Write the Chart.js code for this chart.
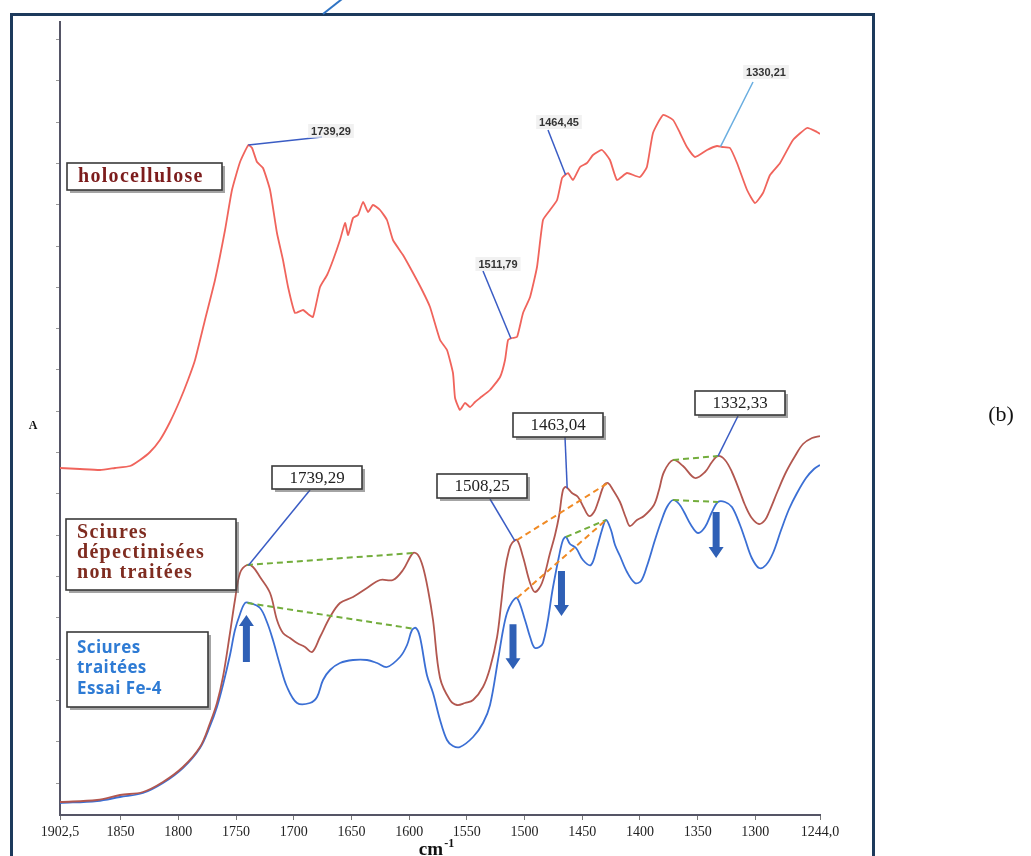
<!DOCTYPE html>
<html>
<head>
<meta charset="utf-8">
<script src="https://cdn.jsdelivr.net/npm/chart.js@4.4.0/dist/chart.umd.min.js"></script>
<style>
  html, body { margin: 0; padding: 0; background: #fff; }
  #wrap { width: 1031px; height: 856px; position: relative; overflow: hidden; }
</style>
</head>
<body>
<div id="wrap"><canvas id="spectre" width="1031" height="856"></canvas></div>
<script>
// wavenumber axis (cm-1), ticks evenly spread as in the original figure
const xTicks = [1902.5, 1850, 1800, 1750, 1700, 1650, 1600, 1550, 1500, 1450, 1400, 1350, 1300, 1244];
const xTickLabels = ["1902,5", "1850", "1800", "1750", "1700", "1650", "1600", "1550", "1500", "1450", "1400", "1350", "1300", "1244,0"];

// holocellulose (absorbance, arbitrary units)
const holoWn = [1902.5, 1885.2, 1867.8, 1854.8, 1841.8, 1833.2, 1824.5, 1815.9, 1807.2, 1798.5,
  1791.6, 1785.5, 1776.9, 1768.2, 1759.5, 1753.5, 1746.5, 1739.3, 1736.1, 1731.8,
  1726.6, 1720.5, 1714.5, 1709.3, 1704.9, 1698.9, 1691.9, 1687.6, 1683.3, 1677.2,
  1671.1, 1665.9, 1659.9, 1655.5, 1652.9, 1648.6, 1644.3, 1639.9, 1635.6, 1631.3,
  1625.2, 1619.2, 1614.0, 1605.3, 1596.6, 1588.8, 1581.9, 1573.2, 1567.2, 1562.0,
  1560.2, 1555.9, 1551.6, 1547.2, 1542.9, 1538.6, 1529.9, 1521.2, 1516.9, 1514.3,
  1510.8, 1506.5, 1501.3, 1495.2, 1489.2, 1484.0, 1477.9, 1471.8, 1467.5, 1464.9,
  1462.3, 1458.0, 1451.9, 1445.9, 1440.7, 1432.9, 1426.0, 1419.9, 1411.2, 1400.1,
  1394.0, 1388.7, 1380.0, 1371.3, 1365.3, 1359.3, 1352.3, 1341.9, 1333.2, 1328.9,
  1322.0, 1315.9, 1307.2, 1300.3, 1293.4, 1287.3, 1278.6, 1267.4, 1255.2, 1246.6,
  1244.0];
const holoA = [347, 346, 345, 347, 349, 355, 363, 375, 393, 415,
  435, 455, 495, 535, 585, 625, 653, 670, 667, 653,
  647, 625, 582, 555, 528, 502, 505, 501, 498, 528,
  540, 555, 575, 592, 580, 597, 600, 613, 603, 610,
  605, 595, 575, 560, 542, 525, 508, 475, 465, 442,
  417, 405, 412, 408, 413, 417, 425, 438, 455, 475,
  477, 478, 502, 518, 548, 595, 605, 615, 637, 640,
  642, 635, 648, 652, 660, 665, 655, 635, 642, 638,
  648, 682, 700, 695, 682, 668, 658, 665, 669, 668,
  667, 652, 625, 612, 622, 640, 652, 675, 687, 683,
  681];

// sciures dépectinisées non traitées
const brutWn = [1902.5, 1870.4, 1850.5, 1830.6, 1813.3, 1796.0, 1781.2, 1772.5, 1766.5, 1761.3,
  1755.2, 1750.9, 1746.5, 1740.5, 1735.3, 1729.2, 1720.5, 1714.5, 1709.3, 1703.2,
  1697.1, 1690.2, 1684.1, 1677.2, 1668.5, 1659.9, 1648.6, 1636.5, 1625.2, 1614.0,
  1605.3, 1596.6, 1592.3, 1588.0, 1583.6, 1579.3, 1573.2, 1564.6, 1558.5, 1551.6,
  1544.6, 1536.0, 1529.9, 1523.8, 1520.4, 1516.9, 1513.4, 1510.8, 1506.5, 1501.3,
  1495.2, 1490.9, 1484.9, 1477.9, 1473.6, 1470.1, 1466.7, 1464.1, 1458.9, 1453.7,
  1448.5, 1444.1, 1439.8, 1436.3, 1431.1, 1427.7, 1423.3, 1417.3, 1412.1, 1408.7,
  1402.6, 1396.5, 1387.9, 1383.5, 1379.2, 1371.3, 1362.7, 1352.3, 1343.6, 1337.6,
  1332.4, 1326.3, 1320.3, 1313.3, 1309.0, 1303.1, 1296.8, 1291.6, 1288.1, 1280.3,
  1273.4, 1265.6, 1258.7, 1250.9, 1244.0];
const brutA = [13, 15, 20, 23, 33, 48, 68, 92, 112, 138,
  182, 215, 242, 250, 248, 238, 222, 195, 182, 177,
  172, 168, 163, 178, 198, 212, 218, 227, 235, 235,
  245, 262, 260, 248, 225, 195, 137, 115, 110, 112,
  115, 128, 147, 178, 210, 245, 265, 272, 275, 258,
  232, 223, 232, 262, 280, 299, 325, 328, 322, 318,
  307, 299, 303, 313, 330, 332, 325, 313, 297, 289,
  295, 299, 310, 325, 343, 355, 349, 337, 343, 353,
  359, 355, 343, 323, 310, 297, 291, 295, 303, 325,
  343, 359, 371, 377, 379];

// sciures traitées, essai Fe-4
const fe4Wn = [1902.5, 1870.4, 1850.5, 1830.6, 1813.3, 1796.0, 1781.2, 1772.5, 1766.5, 1761.3,
  1755.2, 1750.9, 1746.5, 1742.2, 1737.9, 1729.2, 1723.2, 1718.0, 1711.9, 1705.8,
  1697.1, 1685.9, 1679.8, 1674.6, 1668.5, 1659.9, 1648.6, 1636.5, 1627.8, 1619.2,
  1607.9, 1601.8, 1597.5, 1594.1, 1590.6, 1584.6, 1579.3, 1573.2, 1567.2, 1562.0,
  1555.9, 1544.6, 1536.0, 1529.9, 1523.0, 1518.6, 1515.2, 1510.8, 1506.5, 1499.6,
  1495.2, 1490.9, 1484.0, 1475.3, 1470.1, 1466.7, 1464.1, 1460.6, 1455.4, 1449.4,
  1442.5, 1437.3, 1432.9, 1429.4, 1425.1, 1421.6, 1417.3, 1411.2, 1404.3, 1399.1,
  1393.9, 1387.0, 1381.8, 1376.6, 1371.3, 1366.1, 1361.8, 1355.8, 1349.7, 1343.6,
  1337.6, 1332.4, 1326.3, 1320.3, 1313.3, 1309.0, 1303.1, 1296.8, 1290.8, 1284.7,
  1277.7, 1270.8, 1263.9, 1256.1, 1249.2, 1244.0];
const fe4A = [12, 14, 18, 22, 32, 47, 67, 89, 108, 130,
  160, 185, 201, 212, 212, 207, 193, 175, 150, 128,
  112, 112, 118, 135, 145, 152, 155, 155, 152, 148,
  158, 170, 185, 187, 178, 140, 122, 95, 75, 69,
  68, 78, 92, 110, 155, 185, 202, 213, 217, 195,
  178, 167, 172, 228, 259, 275, 278, 271, 267, 255,
  250, 267, 285, 295, 285, 270, 259, 243, 232, 234,
  249, 275, 293, 308, 315, 311, 303, 290, 282, 288,
  303, 313, 313, 308, 290, 276, 257, 247, 250, 262,
  285, 306, 322, 337, 346, 350];

const series = {
  holo: { wn: holoWn, a: holoA },
  brut: { wn: brutWn, a: brutA },
  fe4: { wn: fe4Wn, a: fe4A },
};

// peak labels on the holocellulose trace (small sans labels)
const holoNotes = [
  { wn: 1739.29, text: "1739,29", end: [322, 137], at: [331, 131], color: "#3a5cc4" },
  { wn: 1511.79, text: "1511,79", end: [483, 271], at: [498, 264], color: "#3a5cc4" },
  { wn: 1464.45, text: "1464,45", end: [548, 130], at: [559, 122], color: "#3a5cc4" },
  { wn: 1330.21, text: "1330,21", end: [753, 82], at: [766, 72], color: "#6aaee0" },
];
// boxed peak labels on the untreated sawdust trace
const brutNotes = [
  { wn: 1739.29, text: "1739,29", end: [310, 490], box: [272, 466, 90, 23] },
  { wn: 1508.25, text: "1508,25", end: [490, 499], box: [437, 474, 90, 24] },
  { wn: 1463.04, text: "1463,04", end: [565, 437], box: [513, 413, 90, 24] },
  { wn: 1332.33, text: "1332,33", end: [738, 416], box: [695, 391, 90, 24] },
];
// dashed links between matching peaks
const links = [
  { s: "brut", a: 1740.5, b: 1596.6, color: "#73ad3c" },
  { s: "fe4", a: 1740.0, b: 1595.5, color: "#73ad3c" },
  { s: "brut", a: 1371.3, b: 1332.4, color: "#73ad3c" },
  { s: "fe4", a: 1371.3, b: 1332.4, color: "#73ad3c" },
  { s: "fe4", a: 1464.1, b: 1429.4, color: "#73ad3c" },
  { s: "brut", a: 1506.5, b: 1427.7, color: "#f08a24" },
  { s: "fe4", a: 1506.5, b: 1429.4, color: "#f08a24" },
];
// intensity change arrows under the Fe-4 trace
const arrows = [
  { wn: 1741, gap: 12, len: 47, up: true },
  { wn: 1510, gap: 23, len: 45, up: false },
  { wn: 1468, gap: 25, len: 45, up: false },
  { wn: 1334, gap: 7, len: 46, up: false },
];

function valAt(s, w) {
  for (let i = 0; i < s.wn.length - 1; i++) {
    if (w <= s.wn[i] && w >= s.wn[i + 1]) {
      const t = (s.wn[i] - w) / (s.wn[i] - s.wn[i + 1]);
      return s.a[i] + t * (s.a[i + 1] - s.a[i]);
    }
  }
  return s.a[s.a.length - 1];
}

function toXY(wn, a) {
  return wn.map((w, i) => ({ x: w, y: a[i] }));
}

function boxShadow(ctx, x, y, w, h) {
  ctx.fillStyle = "rgba(90,90,90,0.55)";
  ctx.fillRect(x + 3, y + 3, w, h);
  ctx.fillStyle = "#fff";
  ctx.fillRect(x, y, w, h);
  ctx.strokeStyle = "#3a3a3a";
  ctx.lineWidth = 1.6;
  ctx.strokeRect(x, y, w, h);
}

const decor = {
  id: "decor",
  afterDraw(chart) {
    const ctx = chart.ctx;
    const xs = chart.scales.x, ys = chart.scales.y;
    const pt = (key, wn) => [xs.getPixelForValue(wn), ys.getPixelForValue(valAt(series[key], wn))];
    ctx.save();

    // dashed peak links
    ctx.setLineDash([6, 4]);
    ctx.lineWidth = 2;
    links.forEach(l => {
      const p = pt(l.s, l.a), q = pt(l.s, l.b);
      ctx.strokeStyle = l.color;
      ctx.beginPath(); ctx.moveTo(p[0], p[1]); ctx.lineTo(q[0], q[1]); ctx.stroke();
    });
    ctx.setLineDash([]);

    // holocellulose labels
    ctx.font = 'bold 11px "Liberation Sans"';
    ctx.textAlign = "center";
    ctx.textBaseline = "middle";
    holoNotes.forEach(n => {
      const p = pt("holo", n.wn);
      ctx.strokeStyle = n.color;
      ctx.lineWidth = 1.5;
      ctx.beginPath(); ctx.moveTo(p[0], p[1]); ctx.lineTo(n.end[0], n.end[1]); ctx.stroke();
      const w = ctx.measureText(n.text).width;
      ctx.fillStyle = "rgba(235,235,235,0.7)";
      ctx.fillRect(n.at[0] - w / 2 - 3, n.at[1] - 7, w + 6, 14);
      ctx.fillStyle = "#333";
      ctx.fillText(n.text, n.at[0], n.at[1] + 1);
    });

    // boxed labels on untreated trace
    brutNotes.forEach(n => {
      const p = pt("brut", n.wn);
      ctx.strokeStyle = "#3a5cc4";
      ctx.lineWidth = 1.5;
      ctx.beginPath(); ctx.moveTo(p[0], p[1]); ctx.lineTo(n.end[0], n.end[1]); ctx.stroke();
      const [bx, by, bw, bh] = n.box;
      boxShadow(ctx, bx, by, bw, bh);
      ctx.font = '17px "Liberation Serif"';
      ctx.fillStyle = "#222";
      ctx.fillText(n.text, bx + bw / 2, by + bh / 2 + 1);
    });

    // arrows
    ctx.fillStyle = "#2f60b6";
    arrows.forEach(a => {
      const p = pt("fe4", a.wn);
      const x = p[0], top = p[1] + a.gap, bot = top + a.len;
      const sw = 3.5, hw = 7.5, hl = 11;
      ctx.beginPath();
      if (a.up) {
        ctx.moveTo(x, top); ctx.lineTo(x + hw, top + hl); ctx.lineTo(x + sw, top + hl);
        ctx.lineTo(x + sw, bot); ctx.lineTo(x - sw, bot); ctx.lineTo(x - sw, top + hl);
        ctx.lineTo(x - hw, top + hl);
      } else {
        ctx.moveTo(x - sw, top); ctx.lineTo(x + sw, top); ctx.lineTo(x + sw, bot - hl);
        ctx.lineTo(x + hw, bot - hl); ctx.lineTo(x, bot); ctx.lineTo(x - hw, bot - hl);
        ctx.lineTo(x - sw, bot - hl);
      }
      ctx.closePath(); ctx.fill();
    });

    // series boxes
    ctx.textAlign = "left";
    boxShadow(ctx, 67, 163, 155, 27);
    ctx.font = 'bold 20px "Liberation Serif"';
    ctx.letterSpacing = "1.3px";
    ctx.fillStyle = "#7c1c1c";
    ctx.fillText("holocellulose", 78, 177);

    boxShadow(ctx, 66, 519, 170, 71);
    ctx.fillStyle = "#7f2c20";
    ctx.fillText("Sciures", 77, 533);
    ctx.fillText("dépectinisées", 77, 553);
    ctx.fillText("non traitées", 77, 573);

    boxShadow(ctx, 67, 632, 141, 75);
    ctx.font = 'bold 17px "Open Sans"';
    ctx.letterSpacing = "0.4px";
    ctx.fillStyle = "#2e7bd4";
    ctx.fillText("Sciures", 77, 648);
    ctx.fillText("traitées", 77, 668);
    ctx.fillText("Essai Fe-4", 77, 689);
    ctx.letterSpacing = "0px";

    // axis titles
    ctx.fillStyle = "#111";
    ctx.font = 'bold 12px "Liberation Serif"';
    ctx.textAlign = "center";
    ctx.fillText("A", 33, 426);
    ctx.font = 'bold 19px "Liberation Serif"';
    ctx.textAlign = "left";
    ctx.textBaseline = "alphabetic";
    const cw = ctx.measureText("cm").width;
    const cx = (chart.chartArea.left + chart.chartArea.right) / 2 - (cw + 10) / 2 - 4;
    ctx.fillText("cm", cx, 855);
    ctx.font = 'bold 12px "Liberation Serif"';
    ctx.fillText("-1", cx + cw + 1, 847);

    // panel tag
    ctx.font = '22px "Liberation Serif"';
    ctx.textAlign = "center";
    ctx.textBaseline = "middle";
    ctx.fillText("(b)", 1001, 415);

    // frame
    ctx.strokeStyle = "#1d3a5c";
    ctx.lineWidth = 3;
    ctx.strokeRect(11.5, 14.5, 862, 900);
    ctx.strokeStyle = "#2f74c4";
    ctx.lineWidth = 2;
    ctx.beginPath(); ctx.moveTo(323, 14); ctx.lineTo(342, -1); ctx.stroke();
    ctx.restore();
  }
};

const ctx = document.getElementById("spectre").getContext("2d");
new Chart(ctx, {
  type: "line",
  data: {
    datasets: [
      { label: "holocellulose", data: toXY(holoWn, holoA), borderColor: "#f0645c", borderWidth: 1.8, tension: 0.15 },
      { label: "Sciures dépectinisées non traitées", data: toXY(brutWn, brutA), borderColor: "#b2574f", borderWidth: 1.8, tension: 0.35 },
      { label: "Sciures traitées Essai Fe-4", data: toXY(fe4Wn, fe4A), borderColor: "#3b6fd4", borderWidth: 1.8, tension: 0.35 },
    ],
  },
  options: {
    responsive: false,
    animation: false,
    devicePixelRatio: 1,
    layout: { padding: { left: 60, right: 211, top: 22, bottom: 0 } },
    elements: { point: { radius: 0 } },
    plugins: { legend: { display: false }, tooltip: { enabled: false } },
    scales: {
      x: {
        type: "linear",
        reverse: true,
        min: 1244,
        max: 1902.5,
        afterBuildTicks: (scale) => { scale.ticks = xTicks.map(v => ({ value: v })); },
        afterFit: (scale) => { scale.height = 41; },
        ticks: {
          autoSkip: false,
          maxRotation: 0,
          padding: 4,
          color: "#222",
          font: { family: "Liberation Serif", size: 14 },
          callback: (v, i) => xTickLabels[i],
        },
        grid: { drawOnChartArea: false, tickLength: 5, color: "#777" },
        border: { color: "#556", width: 2 },
      },
      y: {
        min: 0,
        max: 793,
        afterBuildTicks: (scale) => {
          const t = [];
          for (let v = 32; v <= 793; v += 41.3) t.push({ value: v });
          scale.ticks = t;
        },
        afterFit: (scale) => { scale.width = 0; },
        ticks: { display: false },
        grid: { drawOnChartArea: false, tickLength: 4, color: "#999" },
        border: { color: "#556", width: 2 },
      },
    },
  },
  plugins: [decor],
});
</script>
</body>
</html>
